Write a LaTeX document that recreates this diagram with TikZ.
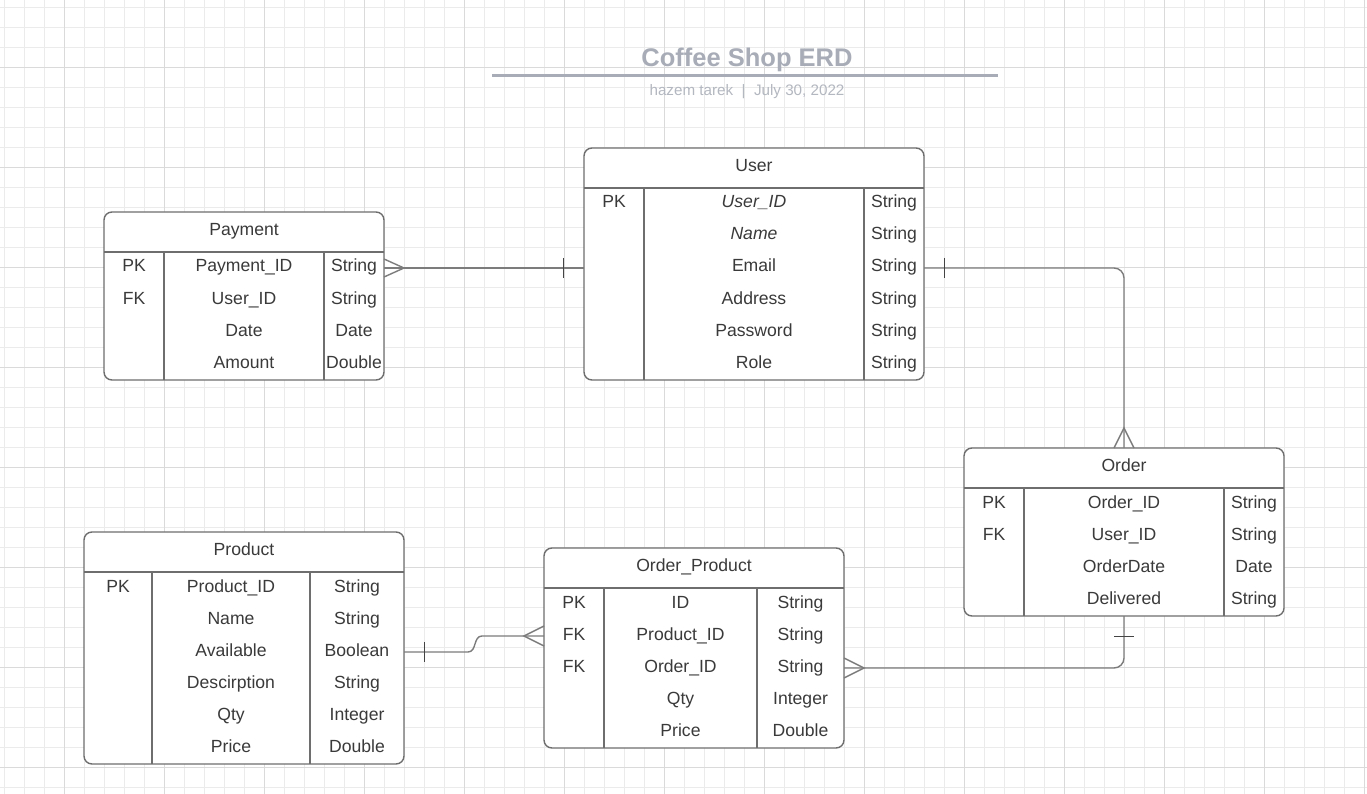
\documentclass[tikz,border=0pt]{standalone}
\usepackage{fontspec}
\setmainfont{Liberation Sans}
\definecolor{textcol}{HTML}{3A3A3A}
\definecolor{bordercol}{HTML}{6E6E6E}
\definecolor{conncol}{HTML}{7C7C7C}
\definecolor{barcol}{HTML}{444444}
\definecolor{gridminor}{HTML}{EBEBEB}
\definecolor{gridmajor}{HTML}{DADADA}
\definecolor{titlecol}{HTML}{A7ACB6}
\definecolor{subcol}{HTML}{B3B7BF}
\begin{document}
\begin{tikzpicture}[x=1pt,y=-1pt,
  tbl/.style={draw=bordercol, line width=1.4pt, rounded corners=8pt, fill=white, inner sep=0pt, outer sep=0pt, anchor=north west},
  sep/.style={draw=bordercol, line width=1.4pt},
  rowbox/.style={inner sep=0pt, outer sep=0pt, minimum height=32pt},
  txt/.style={font=\fontsize{17.6}{21}\selectfont, text=textcol, inner sep=0pt, anchor=base},
  conn/.style={draw=conncol, line width=1.4pt},
  bar/.style={draw=barcol, line width=1pt},
  titlestyle/.style={font=\fontsize{25.5}{30}\selectfont\bfseries, text=titlecol, inner sep=0pt, anchor=base},
  substyle/.style={font=\fontsize{15.2}{18}\selectfont, text=subcol, inner sep=0pt, anchor=base}]
\useasboundingbox (0,0) rectangle (1367,794);
\fill[white] (0,0) rectangle (1367,794);
% grid
\foreach \x in {4,24,...,1364} \draw[gridminor, line width=0.8pt] (\x,0) -- (\x,794);
\foreach \y in {7,27,...,787} \draw[gridminor, line width=0.8pt] (0,\y) -- (1367,\y);
\foreach \x in {64,164,...,1364} \draw[gridmajor, line width=0.9pt] (\x,0) -- (\x,794);
\foreach \y in {67,167,...,767} \draw[gridmajor, line width=0.9pt] (0,\y) -- (1367,\y);

% title
\node[titlestyle] (title) at (747,66.5) {Coffee Shop ERD};
\draw[titlecol, line width=2.2pt] (492,75.5) -- (998,75.5);
\node[substyle] (sub) at (747,96) {hazem tarek \ |\ \ July 30, 2022};

% ---------- User ----------
\node[tbl, minimum width=340pt, minimum height=232pt] (user) at (584,148) {};
\draw[sep] (584,188) -- (924,188);
\draw[sep] (644,188) -- (644,380);
\draw[sep] (864,188) -- (864,380);
\node[txt] (user-h) at (754,171.5) {User};
\foreach \k/\n/\t [count=\i] in {PK/\textit{User\_ID}/String, /\textit{Name}/String, /Email/String, /Address/String, /Password/String, /Role/String}{
  \node[rowbox, minimum width=340pt] (user-r\i) at (754,{188+16+32*(\i-1)}) {};
  \node[txt] (user-k\i) at (614,{188+20+32*(\i-1)}) {\k};
  \node[txt] (user-n\i) at (754,{188+20+32*(\i-1)}) {\n};
  \node[txt] (user-t\i) at (894,{188+20+32*(\i-1)}) {\t};
}

% ---------- Payment ----------
\node[tbl, minimum width=280pt, minimum height=168pt] (pay) at (104,212) {};
\draw[sep] (104,252) -- (384,252);
\draw[sep] (164,252) -- (164,380);
\draw[sep] (324,252) -- (324,380);
\node[txt] (pay-h) at (244,235.5) {Payment};
\foreach \k/\n/\t [count=\i] in {PK/Payment\_ID/String, FK/User\_ID/String, /Date/Date, /Amount/Double}{
  \node[rowbox, minimum width=280pt] (pay-r\i) at (244,{252+16+32*(\i-1)}) {};
  \node[txt] (pay-k\i) at (134,{252+20+32*(\i-1)}) {\k};
  \node[txt] (pay-n\i) at (244,{252+20+32*(\i-1)}) {\n};
  \node[txt] (pay-t\i) at (354,{252+20+32*(\i-1)}) {\t};
}

% ---------- Order ----------
\node[tbl, minimum width=320pt, minimum height=168pt] (order) at (964,448) {};
\draw[sep] (964,488) -- (1284,488);
\draw[sep] (1024,488) -- (1024,616);
\draw[sep] (1224,488) -- (1224,616);
\node[txt] (order-h) at (1124,471.5) {Order};
\foreach \k/\n/\t [count=\i] in {PK/Order\_ID/String, FK/User\_ID/String, /OrderDate/Date, /Delivered/String}{
  \node[rowbox, minimum width=320pt] (order-r\i) at (1124,{488+16+32*(\i-1)}) {};
  \node[txt] (order-k\i) at (994,{488+20+32*(\i-1)}) {\k};
  \node[txt] (order-n\i) at (1124,{488+20+32*(\i-1)}) {\n};
  \node[txt] (order-t\i) at (1254,{488+20+32*(\i-1)}) {\t};
}

% ---------- Product ----------
\node[tbl, minimum width=320pt, minimum height=232pt] (prod) at (84,532) {};
\draw[sep] (84,572) -- (404,572);
\draw[sep] (152,572) -- (152,764);
\draw[sep] (310,572) -- (310,764);
\node[txt] (prod-h) at (244,555.5) {Product};
\foreach \k/\n/\t [count=\i] in {PK/Product\_ID/String, /Name/String, /Available/Boolean, /Descirption/String, /Qty/Integer, /Price/Double}{
  \node[rowbox, minimum width=320pt] (prod-r\i) at (244,{572+16+32*(\i-1)}) {};
  \node[txt] (prod-k\i) at (118,{572+20+32*(\i-1)}) {\k};
  \node[txt] (prod-n\i) at (231,{572+20+32*(\i-1)}) {\n};
  \node[txt] (prod-t\i) at (357,{572+20+32*(\i-1)}) {\t};
}

% ---------- Order_Product ----------
\node[tbl, minimum width=300pt, minimum height=200pt] (op) at (544,548) {};
\draw[sep] (544,588) -- (844,588);
\draw[sep] (604,588) -- (604,748);
\draw[sep] (757,588) -- (757,748);
\node[txt] (op-h) at (694,571.5) {Order\_Product};
\foreach \k/\n/\t [count=\i] in {PK/ID/String, FK/Product\_ID/String, FK/Order\_ID/String, /Qty/Integer, /Price/Double}{
  \node[rowbox, minimum width=300pt] (op-r\i) at (694,{588+16+32*(\i-1)}) {};
  \node[txt] (op-k\i) at (574,{588+20+32*(\i-1)}) {\k};
  \node[txt] (op-n\i) at (680.5,{588+20+32*(\i-1)}) {\n};
  \node[txt] (op-t\i) at (800.5,{588+20+32*(\i-1)}) {\t};
}

% ---------- Connectors ----------
% Payment (many) -- User (one)
\draw[conn] (pay-r1.east) -- (user-r3.west);
\draw[conn] ([yshift=9pt]pay-r1.east) -- ([xshift=20pt]pay-r1.east) -- ([yshift=-9pt]pay-r1.east);
\draw[bar] ([xshift=-21pt,yshift=10pt]user-r3.west) -- ([xshift=-21pt,yshift=-10pt]user-r3.west);

% User (one) -- Order (many)
\draw[conn, rounded corners=10pt] (user-r3.east) -| (order.north);
\draw[bar] ([xshift=20pt,yshift=10pt]user-r3.east) -- ([xshift=20pt,yshift=-10pt]user-r3.east);
\draw[conn] ([xshift=-10pt]order.north) -- ([yshift=20pt]order.north) -- ([xshift=10pt]order.north);

% Order (one) -- Order_Product (many)
\draw[conn, rounded corners=10pt] (order.south) |- (op-r3.east);
\draw[bar] ([xshift=-10pt,yshift=-20pt]order.south) -- ([xshift=10pt,yshift=-20pt]order.south);
\draw[conn] ([yshift=10pt]op-r3.east) -- ([xshift=20pt]op-r3.east) -- ([yshift=-10pt]op-r3.east);

% Product (one) -- Order_Product (many)
\draw[conn] (prod-r3.east) -- ++(64,0) .. controls +(9,0) and +(-9,0) .. ([xshift=-62pt]op-r2.west) -- (op-r2.west);
\draw[bar] ([xshift=20pt,yshift=10pt]prod-r3.east) -- ([xshift=20pt,yshift=-10pt]prod-r3.east);
\draw[conn] ([yshift=10pt]op-r2.west) -- ([xshift=-20pt]op-r2.west) -- ([yshift=-10pt]op-r2.west);
\end{tikzpicture}
\end{document}
